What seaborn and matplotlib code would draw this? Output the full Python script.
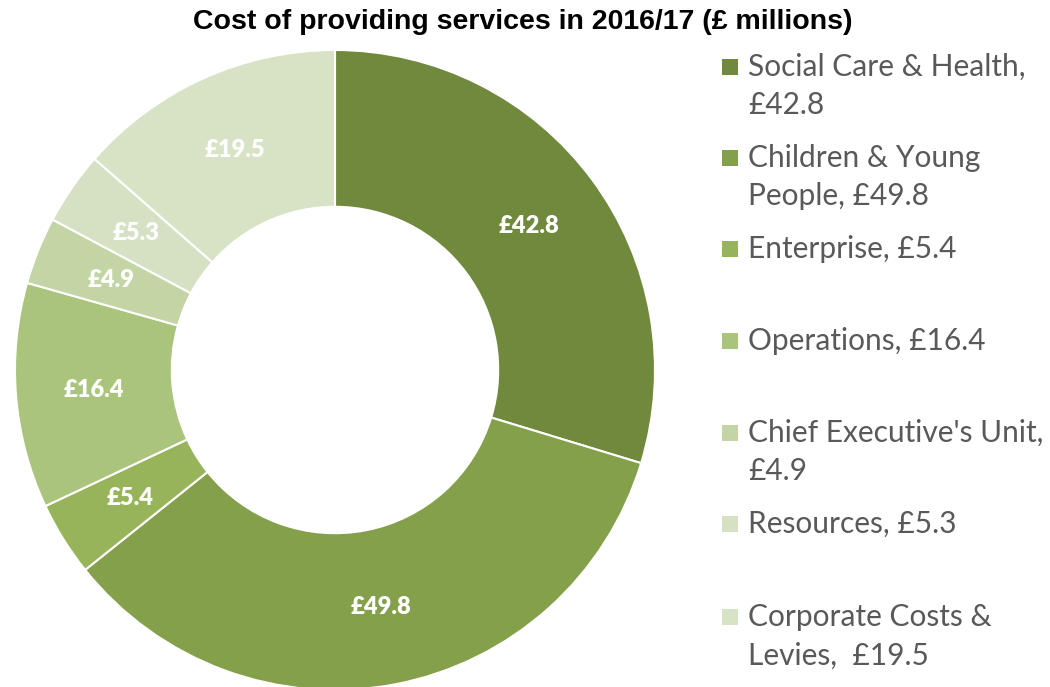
import numpy as np
import seaborn as sns
import matplotlib.pyplot as plt
from matplotlib.patches import Rectangle

# Data
services = ["Social Care & Health", "Children & Young People", "Enterprise",
            "Operations", "Chief Executive's Unit", "Resources",
            "Corporate Costs & Levies"]
costs = [42.8, 49.8, 5.4, 16.4, 4.9, 5.3, 19.5]
legend_labels = ["Social Care & Health,\n£42.8", "Children & Young\nPeople, £49.8",
                 "Enterprise, £5.4", "Operations, £16.4",
                 "Chief Executive's Unit,\n£4.9", "Resources, £5.3",
                 "Corporate Costs &\nLevies,  £19.5"]
colors = ["#70893D", "#84A04B", "#97B45A", "#AAC47C", "#C3D4A5", "#D6E1C4", "#D8E3C6"]

sns.set_theme(style="white")
plt.rcParams["font.family"] = ["Lato", "DejaVu Sans"]

fig = plt.figure(figsize=(10.5, 6.87), dpi=100)
ax = fig.add_axes([15 / 1050, -3 / 687, 640 / 1050, 640 / 687])

# Donut, clockwise from 12 o'clock
wedges, _ = ax.pie(costs, colors=colors, startangle=90, counterclock=False,
                   radius=1.0, wedgeprops=dict(width=0.49, edgecolor="white", linewidth=1.5))
ax.set_xlim(-1, 1)
ax.set_ylim(-1, 1)
ax.set_aspect("equal")

# Value labels inside each ring segment
for w, v in zip(wedges, costs):
    ang = np.deg2rad((w.theta1 + w.theta2) / 2)
    r = 0.755
    ax.text(r * np.cos(ang), r * np.sin(ang), f"£{v}", ha="center", va="center",
            color="white", fontsize=17, fontweight="heavy")

# Legend drawn by hand to match the spacing of the original
legend_y = [67, 158, 249, 341, 433, 524, 617]
for lab, col, y in zip(legend_labels, colors, legend_y):
    fig.patches.append(Rectangle((722 / 1050, 1 - (y + 8) / 687), 16 / 1050, 16 / 687,
                                 transform=fig.transFigure, facecolor=col, edgecolor="none"))
    fig.text(748 / 1050, 1 - (y - 14) / 687, lab, ha="left", va="top",
             fontsize=21.5, color="#595959", linespacing=1.45)

fig.text(523 / 1050, 1 - 22 / 687, "Cost of providing services in 2016/17 (£ millions)",
         ha="center", va="center", fontsize=20.5, fontweight="bold",
         family=["Liberation Sans", "DejaVu Sans"], color="black")

plt.savefig("out.png", dpi=100)
